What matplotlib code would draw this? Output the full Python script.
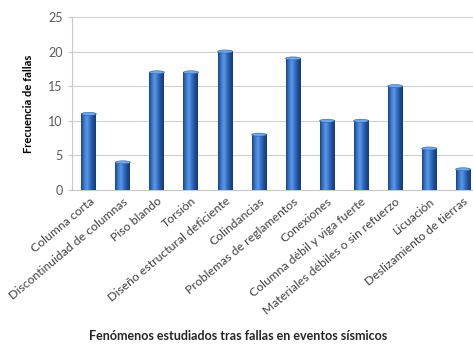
import numpy as np
import matplotlib
matplotlib.use("Agg")
import matplotlib.pyplot as plt
from matplotlib.colors import LinearSegmentedColormap
from matplotlib.patches import Ellipse

categorias = [
    "Columna corta",
    "Discontinuidad de columnas",
    "Piso blando",
    "Torsión",
    "Diseño estructural deficiente",
    "Colindancias",
    "Problemas de reglamentos",
    "Conexiones",
    "Columna débil y viga fuerte",
    "Materiales débiles o sin refuerzo",
    "Licuación",
    "Deslizamiento de tierras",
]
frecuencias = [11, 4, 17, 17, 20, 8, 19, 10, 10, 15, 6, 3]

plt.rcParams['font.family'] = ['Lato', 'DejaVu Sans']

fig = plt.figure(figsize=(4.73, 3.45), dpi=100)
ax = fig.add_axes([0.152, 0.449, 0.848, 0.502])

# cylinder shading: dark edges, bright band left of center
cyl = LinearSegmentedColormap.from_list(
    "cyl", ["#1b427e", "#3a78cc", "#5c9ae6", "#3570c4", "#1f4f96", "#173a70"])
grad = np.linspace(0, 1, 64).reshape(1, -1)

ancho = 0.44
x = np.arange(len(categorias))
bars = ax.bar(x, frecuencias, width=ancho, color="none", zorder=3)
for b in bars:
    x0, w, h = b.get_x(), b.get_width(), b.get_height()
    ax.imshow(grad, cmap=cyl, aspect="auto", extent=[x0, x0 + w, 0, h],
              zorder=3, interpolation="bicubic")
    ax.add_patch(Ellipse((x0 + w / 2, h), w, 0.45, facecolor="#6fa8ea",
                         edgecolor="#2a5da8", linewidth=0.4, zorder=4))

ax.set_xlim(-0.5, 11.29)
ax.set_ylim(0, 25)
ax.set_yticks(range(0, 26, 5))
ax.grid(axis="y", color="#d0d0d0", linewidth=0.8, zorder=0)
ax.set_axisbelow(True)

for s in ["top", "right"]:
    ax.spines[s].set_visible(False)
ax.spines["left"].set_color("#c8c8c8")
ax.spines["bottom"].set_color("#c8c8c8")

ax.tick_params(axis="y", labelsize=9, colors="#595959", length=3, color="#c8c8c8")
ax.tick_params(axis="x", length=0, pad=4)
ax.set_xticks(x)
ax.set_xticklabels(categorias, rotation=40, ha="right", rotation_mode="anchor",
                   fontsize=8.8, color="#404040")

ax.set_ylabel("Frecuencia de fallas", fontsize=8, fontweight="bold", labelpad=10)
fig.text(0.503, 0.025, "Fenómenos estudiados tras fallas en eventos sísmicos",
         ha="center", va="center", fontsize=9, fontweight="bold", color="#262626")

fig.savefig("out.png", dpi=100)
